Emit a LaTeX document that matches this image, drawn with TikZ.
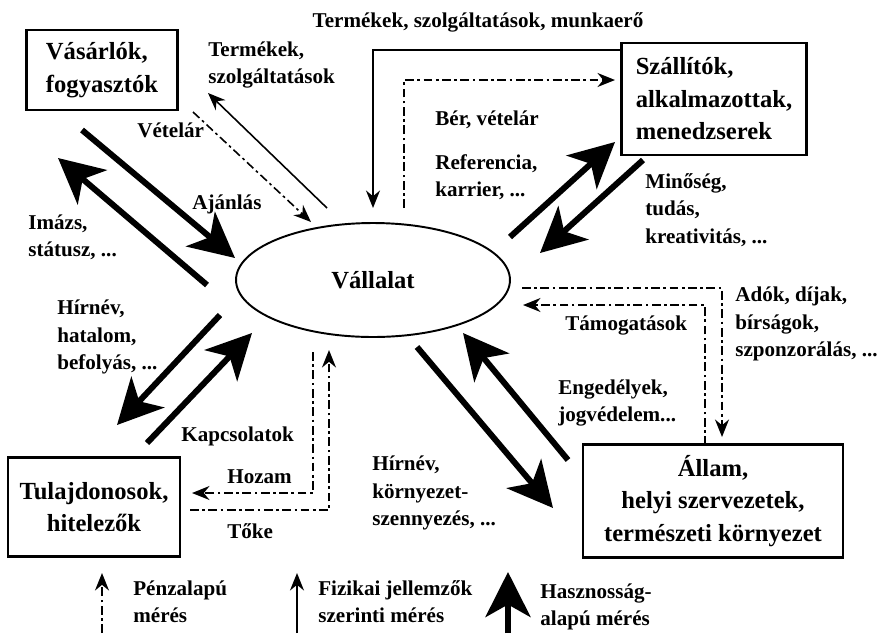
\documentclass[tikz,border=0pt]{standalone}
\usepackage{fontspec}
\setmainfont{Liberation Serif}
\usetikzlibrary{shapes.geometric, arrows.meta, positioning}

\begin{document}
\begin{tikzpicture}[x=0.02cm, y=-0.02cm]
    % Stílusok
    \tikzstyle{actor} = [rectangle, draw=black, line width=1.2pt, inner sep=0pt, font=\bfseries\fontsize{14}{18.5}\selectfont]
    \tikzstyle{firm} = [ellipse, draw=black, line width=1.1pt, minimum width=5.48cm, minimum height=2.28cm, font=\bfseries\fontsize{14}{18}\selectfont]
    \tikzstyle{lbl} = [anchor=west, align=left, inner sep=0pt, font=\bfseries\fontsize{12}{15.5}\selectfont]
    \tikzstyle{bigarrow} = [line width=3.4pt, -{Stealth[length=9mm, width=9mm, inset=2.5mm]}]
    \tikzstyle{thinarrow} = [line width=0.9pt, -{Stealth[length=3.5mm, width=2.8mm]}]
    \tikzstyle{moneyarrow} = [line width=0.9pt, dash pattern=on 5pt off 2pt on 1.5pt off 2pt, -{Stealth[length=3.5mm, width=2.8mm]}]

    \useasboundingbox (0,0) rectangle (882,633);

    % Csomópontok
    \node (vall) [firm] at (373,280) {Vállalat};
    \node (vas) [actor, minimum width=3.02cm, minimum height=1.6cm, align=left] at (102,70) {Vásárlók,\\fogyasztók};
    \node (szall) [actor, minimum width=3.7cm, minimum height=2.24cm, align=left] at (714,99) {Szállítók,\\alkalmazottak,\\menedzserek};
    \node (tul) [actor, minimum width=3.44cm, minimum height=1.98cm, align=center] at (94,507) {Tulajdonosok,\\hitelezők};
    \node (allam) [actor, minimum width=5.2cm, minimum height=2.26cm, align=center] at (713,501) {Állam,\\helyi szervezetek,\\természeti környezet};

    % Feliratok
    \node (top) [lbl, anchor=center] at (478,22) {Termékek, szolgáltatások, munkaerő};
    \node (termszolg) [lbl] at (208,65) {Termékek,\\szolgáltatások};
    \node (vetelar) [lbl] at (137,130) {Vételár};
    \node (ajanlas) [lbl] at (192,204) {Ajánlás};
    \node (imazs) [lbl] at (28,237) {Imázs,\\státusz, ...};
    \node (hirnev) [lbl] at (57,337) {Hírnév,\\hatalom,\\befolyás, ...};
    \node (kapcs) [lbl] at (181,436) {Kapcsolatok};
    \node (hozam) [lbl] at (227,477) {Hozam};
    \node (toke) [lbl] at (227,531) {Tőke};
    \node (kornyezet) [lbl] at (372,493) {Hírnév,\\környezet-\\szennyezés, ...};
    \node (engedely) [lbl] at (558,403) {Engedélyek,\\jogvédelem...};
    \node (tamog) [lbl] at (565,325) {Támogatások};
    \node (adok) [lbl] at (735,324) {Adók, díjak,\\bírságok,\\szponzorálás, ...};
    \node (minoseg) [lbl] at (645,210) {Minőség,\\tudás,\\kreativitás, ...};
    \node (ber) [lbl] at (435,120) {Bér, vételár};
    \node (referencia) [lbl] at (435,177) {Referencia,\\karrier, ...};
    \node (penz) [lbl] at (133,602) {Pénzalapú\\mérés};
    \node (fizikai) [lbl] at (318,602) {Fizikai jellemzők\\szerinti mérés};
    \node (haszn) [lbl] at (540,607) {Hasznosság-\\alapú mérés};

    % Végpontok
    \coordinate (a1) at (82,130);  \coordinate (a2) at (235,258);
    \coordinate (b1) at (207,285); \coordinate (b2) at (58,158);
    \coordinate (c1) at (510,237); \coordinate (c2) at (615,142);
    \coordinate (d1) at (643,160); \coordinate (d2) at (540,253);
    \coordinate (e1) at (220,315); \coordinate (e2) at (117,425);
    \coordinate (f1) at (147,443); \coordinate (f2) at (252,333);
    \coordinate (g1) at (417,347); \coordinate (g2) at (553,508);
    \coordinate (h1) at (568,460); \coordinate (h2) at (463,333);
    \coordinate (p1) at (327,208); \coordinate (p2) at (208,93);
    \coordinate (q1) at (193,112); \coordinate (q2) at (311,222);
    \coordinate (r1) at (622,50);  \coordinate (r2) at (373,208);
    \coordinate (s1) at (404,208); \coordinate (s2) at (615,80);
    \coordinate (u1) at (522,288); \coordinate (u2) at (722,437);
    \coordinate (v1) at (705,445); \coordinate (v2) at (523,305);
    \coordinate (w1) at (313,352); \coordinate (w2) at (192,493);
    \coordinate (z1) at (190,510); \coordinate (z2) at (329,350);
    \coordinate (l1) at (102,633); \coordinate (l1t) at (102,573);
    \coordinate (l2) at (297,633); \coordinate (l2t) at (297,573);
    \coordinate (l3) at (508,633); \coordinate (l3t) at (508,572);

    % Nyilak
    \draw [bigarrow] (a1) -- (a2);
    \draw [bigarrow] (b1) -- (b2);
    \draw [bigarrow] (c1) -- (c2);
    \draw [bigarrow] (d1) -- (d2);
    \draw [bigarrow] (e1) -- (e2);
    \draw [bigarrow] (f1) -- (f2);
    \draw [bigarrow] (g1) -- (g2);
    \draw [bigarrow] (h1) -- (h2);
    \draw [thinarrow] (p1) -- (p2);
    \draw [moneyarrow] (q1) -- (q2);
    \draw [thinarrow] (r1) -| (r2);
    \draw [moneyarrow] (s1) |- (s2);
    \draw [moneyarrow] (u1) -| (u2);
    \draw [moneyarrow] (v1) |- (v2);
    \draw [moneyarrow] (w1) |- (w2);
    \draw [moneyarrow] (z1) -| (z2);

    % Jelmagyarázat
    \draw [moneyarrow] (l1) -- (l1t);
    \draw [thinarrow] (l2) -- (l2t);
    \draw [bigarrow] (l3) -- (l3t);

\end{tikzpicture}
\end{document}
